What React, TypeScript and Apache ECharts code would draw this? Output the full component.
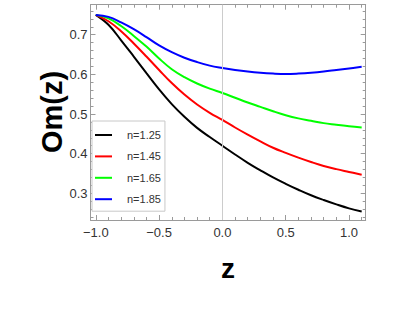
import React, { useEffect, useRef } from 'react';
import * as echarts from 'echarts';

const zValues = [-1.0, -0.9, -0.8, -0.7, -0.6, -0.5, -0.4, -0.3, -0.2, -0.1, 0.0, 0.1, 0.2, 0.3, 0.4, 0.5, 0.6, 0.7, 0.8, 0.9, 1.0, 1.1];
const omN125 = [0.750, 0.725, 0.686, 0.645, 0.603, 0.562, 0.525, 0.493, 0.465, 0.442, 0.420, 0.398, 0.377, 0.358, 0.340, 0.324, 0.309, 0.295, 0.283, 0.272, 0.262, 0.254];
const omN145 = [0.750, 0.734, 0.709, 0.678, 0.645, 0.611, 0.578, 0.549, 0.524, 0.503, 0.485, 0.466, 0.448, 0.431, 0.415, 0.402, 0.390, 0.379, 0.369, 0.361, 0.354, 0.347];
const omN165 = [0.750, 0.741, 0.722, 0.697, 0.670, 0.640, 0.613, 0.593, 0.577, 0.564, 0.553, 0.541, 0.529, 0.518, 0.507, 0.497, 0.489, 0.483, 0.477, 0.473, 0.469, 0.466];
const omN185 = [0.750, 0.745, 0.731, 0.714, 0.694, 0.673, 0.656, 0.642, 0.631, 0.622, 0.616, 0.611, 0.607, 0.604, 0.602, 0.601, 0.602, 0.604, 0.607, 0.611, 0.615, 0.619];

const seriesNames = ['n=1.25', 'n=1.45', 'n=1.65', 'n=1.85'];
const seriesValues = [omN125, omN145, omN165, omN185];
const seriesColors = ['#000000', '#ff0000', '#00ff00', '#0000ff'];

const xMajorTicks = [-1.0, -0.5, 0.0, 0.5, 1.0];
const xMinorTicks = [-1.0, -0.9, -0.8, -0.7, -0.6, -0.5, -0.4, -0.3, -0.2, -0.1, 0.0, 0.1, 0.2, 0.3, 0.4, 0.5, 0.6, 0.7, 0.8, 0.9, 1.0, 1.1];
const yMajorTicks = [0.3, 0.4, 0.5, 0.6, 0.7];
const yMinorTicks = [0.24, 0.26, 0.28, 0.3, 0.32, 0.34, 0.36, 0.38, 0.4, 0.42, 0.44, 0.46, 0.48, 0.5, 0.52, 0.54, 0.56, 0.58, 0.6, 0.62, 0.64, 0.66, 0.68, 0.7, 0.72, 0.74, 0.76];

const X_MIN = -1.0418;
const X_MAX = 1.1317;
const Y_MIN = 0.2327;
const Y_MAX = 0.7757;

const FRAME = '#9a9a9a';
const LABEL_FONT = '"Liberation Sans", Arial, sans-serif';

function fmt(v: number) {
  return v.toFixed(1).replace('-', '\u2212');
}

export default function App() {
  const ref = useRef<HTMLDivElement>(null);
  useEffect(() => {
    if (!ref.current) return;
    const chart = echarts.init(ref.current, undefined, { renderer: 'svg' });
    const gridPos = { left: 90.5, right: 36.3, top: 4.7, bottom: 112, outerBoundsMode: 'none' };
    const xBase = (gridIndex: number, position: string) => ({
      type: 'value', gridIndex, position, min: X_MIN, max: X_MAX,
      splitLine: { show: false },
    });
    const yBase = (gridIndex: number, position: string) => ({
      type: 'value', gridIndex, position, min: Y_MIN, max: Y_MAX,
      splitLine: { show: false },
    });
    const option: any = {
      animation: false,
      backgroundColor: '#ffffff',
      grid: [ { ...gridPos }, { ...gridPos } ],
      xAxis: [
        {
          ...xBase(0, 'bottom'),
          axisLine: { show: true, onZero: false, lineStyle: { color: FRAME, width: 1 } },
          axisTick: { show: true, inside: true, length: 5, customValues: xMajorTicks, lineStyle: { color: FRAME } },
          axisLabel: { show: true, customValues: xMajorTicks, formatter: fmt, margin: 6, color: '#333', fontSize: 13, fontFamily: LABEL_FONT },
        },
        {
          ...xBase(0, 'top'),
          axisLine: { show: true, onZero: false, lineStyle: { color: FRAME, width: 1 } },
          axisTick: { show: true, inside: true, length: 5, customValues: xMajorTicks, lineStyle: { color: FRAME } },
          axisLabel: { show: false },
        },
        {
          ...xBase(1, 'bottom'),
          axisLine: { show: false, onZero: false },
          axisTick: { show: true, inside: true, length: 3, customValues: xMinorTicks, lineStyle: { color: FRAME } },
          axisLabel: { show: false },
        },
        {
          ...xBase(1, 'top'),
          axisLine: { show: false, onZero: false },
          axisTick: { show: true, inside: true, length: 3, customValues: xMinorTicks, lineStyle: { color: FRAME } },
          axisLabel: { show: false },
        },
      ],
      yAxis: [
        {
          ...yBase(0, 'left'),
          axisLine: { show: true, onZero: false, lineStyle: { color: FRAME, width: 1 } },
          axisTick: { show: true, inside: true, length: 5, customValues: yMajorTicks, lineStyle: { color: FRAME } },
          axisLabel: { show: true, customValues: yMajorTicks, formatter: fmt, margin: 3, color: '#333', fontSize: 13, fontFamily: LABEL_FONT },
        },
        {
          ...yBase(0, 'right'),
          axisLine: { show: true, onZero: false, lineStyle: { color: FRAME, width: 1 } },
          axisTick: { show: true, inside: true, length: 5, customValues: yMajorTicks, lineStyle: { color: FRAME } },
          axisLabel: { show: false },
        },
        {
          ...yBase(1, 'left'),
          axisLine: { show: false, onZero: false },
          axisTick: { show: true, inside: true, length: 3, customValues: yMinorTicks, lineStyle: { color: FRAME } },
          axisLabel: { show: false },
        },
        {
          ...yBase(1, 'right'),
          axisLine: { show: false, onZero: false },
          axisTick: { show: true, inside: true, length: 3, customValues: yMinorTicks, lineStyle: { color: FRAME } },
          axisLabel: { show: false },
        },
      ],
      legend: {
        data: seriesNames,
        orient: 'vertical',
        left: 92,
        top: 121,
        padding: [7, 4, 5, 3],
        itemWidth: 17,
        itemHeight: 2,
        itemGap: 7.4,
        icon: 'rect',
        backgroundColor: '#ffffff',
        borderColor: '#c8c8c8',
        borderWidth: 1,
        borderRadius: 0,
        textStyle: { color: '#333', fontSize: 11, lineHeight: 14, fontFamily: LABEL_FONT, padding: [0, 0, 0, 10] },
      },
      graphic: [
        {
          type: 'text', x: 52, y: 112, rotation: Math.PI / 2, z: 10,
          style: { text: 'Om(z)', fontSize: 29, fontWeight: 'bold', fontFamily: LABEL_FONT, fill: '#000', textAlign: 'center', textVerticalAlign: 'middle' },
        },
        {
          type: 'text', x: 228, y: 268, z: 10,
          style: { text: 'z', fontSize: 28, fontWeight: 'bold', fontFamily: LABEL_FONT, fill: '#000', textAlign: 'center', textVerticalAlign: 'middle' },
        },
      ],
      series: [
        {
          type: 'line', name: 'zero-line', xAxisIndex: 0, yAxisIndex: 0, z: 1,
          data: [[0, 0.5]], showSymbol: false, symbol: 'none', lineStyle: { opacity: 0 },
          silent: true,
          markLine: {
            silent: true, symbol: ['none', 'none'], label: { show: false },
            lineStyle: { color: '#cccccc', type: 'solid', width: 1 },
            data: [{ xAxis: 0 }],
          },
        },
        ...seriesNames.map((name, i) => ({
          type: 'line', name, xAxisIndex: 0, yAxisIndex: 0, z: 3,
          data: zValues.map((z, j) => [z, seriesValues[i][j]]),
          smooth: 0.4, showSymbol: false, symbol: 'none',
          color: seriesColors[i],
          lineStyle: { color: seriesColors[i], width: 2 },
        })),
      ],
    };
    chart.setOption(option);
    return () => chart.dispose();
  }, []);
  return <div ref={ref} style={{ position: 'fixed', left: 0, top: 0, width: 402, height: 332 }} />;
}
